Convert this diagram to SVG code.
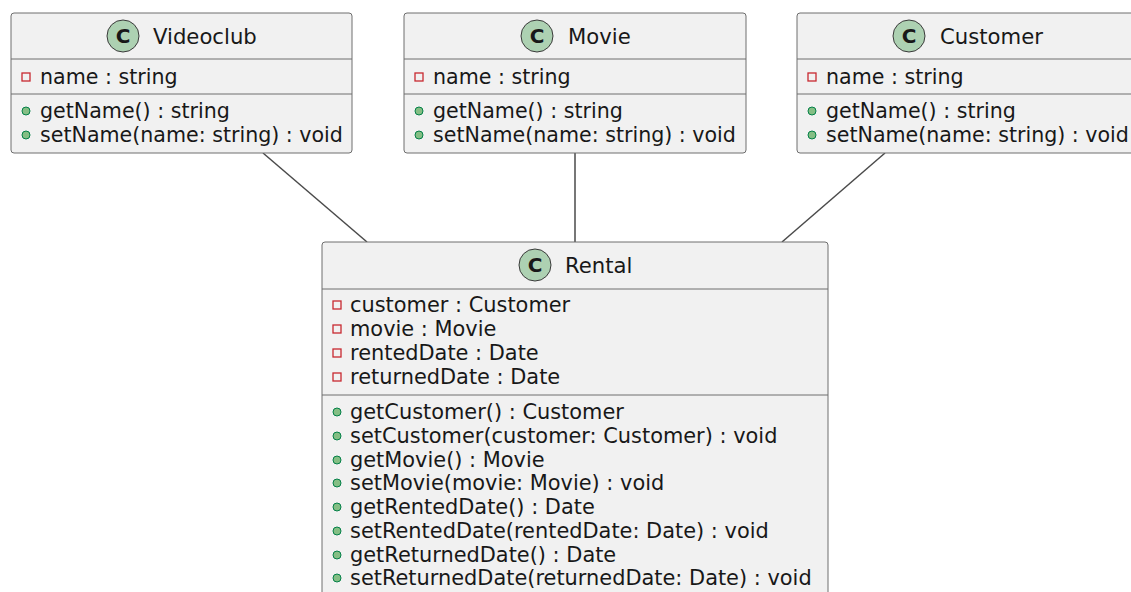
<svg xmlns="http://www.w3.org/2000/svg" width="1131" height="592" viewBox="0 0 1131 592">
<style>
.box{fill:#F1F1F1;stroke:#6e6e6e;stroke-width:1}
.sep{stroke:#6e6e6e;stroke-width:1}
.ci{fill:#ADD1B2;stroke:#3a3a3a;stroke-width:1}
.cl{font-family:"DejaVu Sans",sans-serif;font-size:20px;font-weight:bold;fill:#181818;text-anchor:middle}
.t{font-family:"DejaVu Sans",sans-serif;font-size:20.6px;fill:#181818}
.r{font-family:"DejaVu Sans",sans-serif;font-size:20.9px;fill:#181818}
.h{font-family:"DejaVu Sans",sans-serif;font-size:21.2px;fill:#181818}
.pv{fill:none;stroke:#C82930;stroke-width:1.3}
.pb{fill:#84BE84;stroke:#038048;stroke-width:1}
.edge{stroke:#4a4a4a;stroke-width:1.5;fill:none}
</style>
<rect width="1131" height="592" fill="#FFFFFF"/>
<g id="connectors">
<line class="edge" x1="263" y1="153" x2="367" y2="242"/>
<line class="edge" x1="575" y1="153" x2="575" y2="242"/>
<line class="edge" x1="885" y1="153" x2="782" y2="242"/>
</g>
<g id="Videoclub">
<rect class="box" x="11" y="13" width="341" height="140" rx="3"/>
<line class="sep" x1="11" y1="59" x2="352" y2="59"/>
<line class="sep" x1="11" y1="94" x2="352" y2="94"/>
<circle class="ci" cx="123" cy="36" r="16"/>
<text class="cl" x="123" y="43">C</text>
<text class="h" x="153" y="43.5">Videoclub</text>
<rect class="pv" x="22" y="73" width="8" height="8"/>
<text class="t" x="40" y="84">name : string</text>
<circle class="pb" cx="26" cy="111" r="4"/>
<text class="t" x="40" y="118">getName() : string</text>
<circle class="pb" cx="26" cy="135" r="4"/>
<text class="t" x="40" y="142">setName(name: string) : void</text>
</g>
<g id="Movie">
<rect class="box" x="404" y="13" width="342" height="140" rx="3"/>
<line class="sep" x1="404" y1="59" x2="746" y2="59"/>
<line class="sep" x1="404" y1="94" x2="746" y2="94"/>
<circle class="ci" cx="537" cy="36" r="16"/>
<text class="cl" x="537" y="43">C</text>
<text class="h" x="568" y="43.5">Movie</text>
<rect class="pv" x="415" y="73" width="8" height="8"/>
<text class="t" x="433" y="84">name : string</text>
<circle class="pb" cx="419" cy="111" r="4"/>
<text class="t" x="433" y="118">getName() : string</text>
<circle class="pb" cx="419" cy="135" r="4"/>
<text class="t" x="433" y="142">setName(name: string) : void</text>
</g>
<g id="Customer">
<rect class="box" x="797" y="13" width="340" height="140" rx="3"/>
<line class="sep" x1="797" y1="59" x2="1131" y2="59"/>
<line class="sep" x1="797" y1="94" x2="1131" y2="94"/>
<circle class="ci" cx="909" cy="36" r="16"/>
<text class="cl" x="909" y="43">C</text>
<text class="h" x="940" y="43.5">Customer</text>
<rect class="pv" x="808" y="73" width="8" height="8"/>
<text class="t" x="826" y="84">name : string</text>
<circle class="pb" cx="812" cy="111" r="4"/>
<text class="t" x="826" y="118">getName() : string</text>
<circle class="pb" cx="812" cy="135" r="4"/>
<text class="t" x="826" y="142">setName(name: string) : void</text>
</g>
<g id="Rental">
<rect class="box" x="322" y="242" width="506" height="370" rx="3"/>
<line class="sep" x1="322" y1="289" x2="828" y2="289"/>
<line class="sep" x1="322" y1="395" x2="828" y2="395"/>
<circle class="ci" cx="535" cy="265" r="16"/>
<text class="cl" x="535" y="272">C</text>
<text class="h" x="565" y="272.5">Rental</text>
<rect class="pv" x="333" y="301" width="8" height="8"/>
<text class="r" x="350" y="312">customer : Customer</text>
<rect class="pv" x="333" y="325" width="8" height="8"/>
<text class="r" x="350" y="336">movie : Movie</text>
<rect class="pv" x="333" y="349" width="8" height="8"/>
<text class="r" x="350" y="360">rentedDate : Date</text>
<rect class="pv" x="333" y="373" width="8" height="8"/>
<text class="r" x="350" y="384">returnedDate : Date</text>
<circle class="pb" cx="337" cy="412" r="4"/>
<text class="r" x="350" y="419">getCustomer() : Customer</text>
<circle class="pb" cx="337" cy="436" r="4"/>
<text class="r" x="350" y="443">setCustomer(customer: Customer) : void</text>
<circle class="pb" cx="337" cy="460" r="4"/>
<text class="r" x="350" y="467">getMovie() : Movie</text>
<circle class="pb" cx="337" cy="483" r="4"/>
<text class="r" x="350" y="490">setMovie(movie: Movie) : void</text>
<circle class="pb" cx="337" cy="507" r="4"/>
<text class="r" x="350" y="514">getRentedDate() : Date</text>
<circle class="pb" cx="337" cy="531" r="4"/>
<text class="r" x="350" y="538">setRentedDate(rentedDate: Date) : void</text>
<circle class="pb" cx="337" cy="555" r="4"/>
<text class="r" x="350" y="562">getReturnedDate() : Date</text>
<circle class="pb" cx="337" cy="578" r="4"/>
<text class="r" x="350" y="585">setReturnedDate(returnedDate: Date) : void</text>
</g>
</svg>
